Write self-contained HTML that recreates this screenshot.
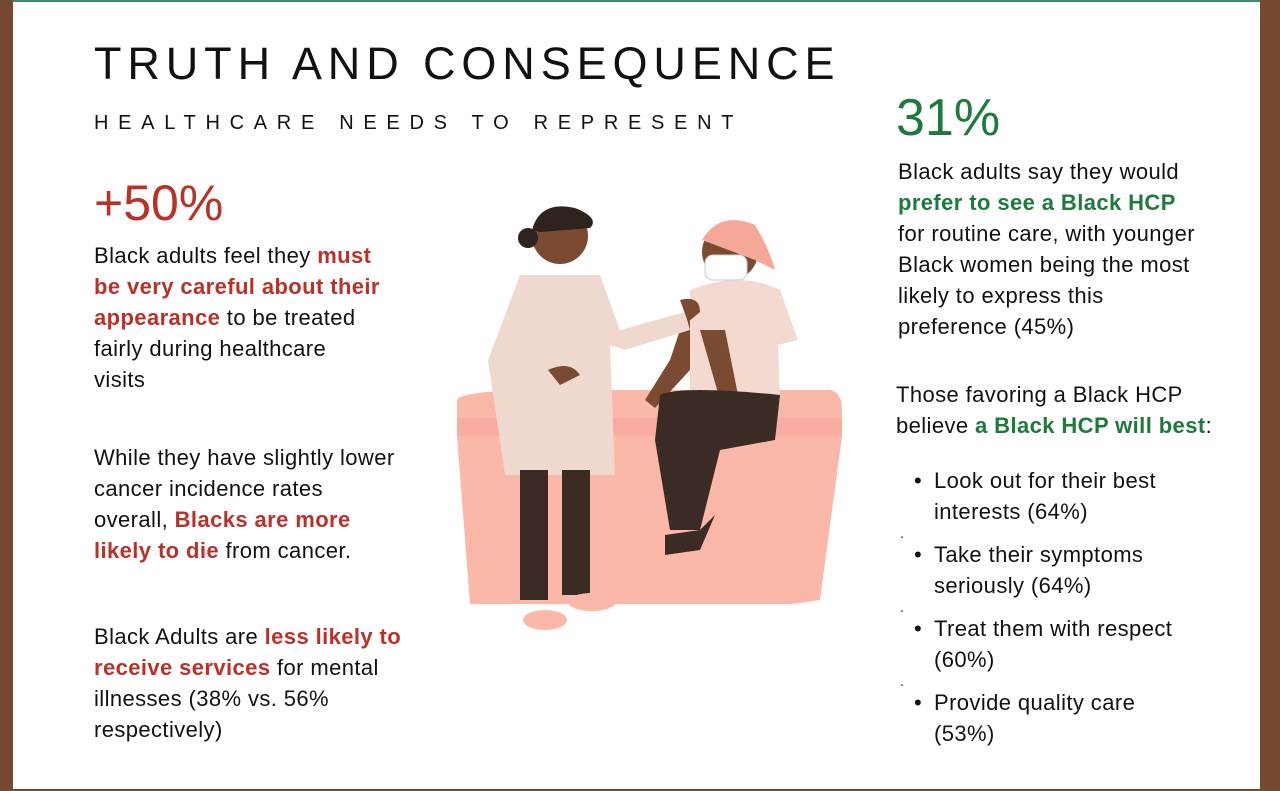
<!DOCTYPE html>
<html><head><meta charset="utf-8"><style>
body{margin:0;width:1280px;height:791px;position:relative;background:#fff;font-family:"Liberation Sans",sans-serif;overflow:hidden;color:#111}
.abs{position:absolute}
.red{color:#b8322a;font-weight:bold}
.grn{color:#1e7a3c;font-weight:bold}
.body{font-size:22px;line-height:31px;white-space:nowrap;letter-spacing:0.4px}
ul{margin:0;padding:0;list-style:none}
li{position:relative;padding-left:38px}
li.b:before{content:"•";position:absolute;left:18px}
.dot{height:12px;line-height:12px;padding-left:4px;font-size:14px}
</style></head><body>
<div class="abs" style="left:0;top:0;width:13px;height:791px;background:#774a30"></div>
<div class="abs" style="left:1260px;top:0;width:20px;height:791px;background:#774a30"></div>
<div class="abs" style="left:13px;top:0;width:1247px;height:2px;background:#3f8a6a"></div>
<div class="abs" style="left:0;top:789px;width:1280px;height:2px;background:#774a30"></div>

<div class="abs" style="left:94px;top:40px;font-size:45px;letter-spacing:5.9px;line-height:48px">TRUTH AND CONSEQUENCE</div>
<div class="abs" style="left:94px;top:112px;font-size:20px;letter-spacing:9.7px">HEALTHCARE NEEDS TO REPRESENT</div>

<div class="abs" style="left:94px;top:174px;font-size:50px;color:#b8322a">+50%</div>
<div class="abs body" style="left:94px;top:240px">Black adults feel they <span class="red">must</span><br><span class="red">be very careful about their</span><br><span class="red">appearance</span> to be treated<br>fairly during healthcare<br>visits</div>
<div class="abs body" style="left:94px;top:442px">While they have slightly lower<br>cancer incidence rates<br>overall, <span class="red">Blacks are more</span><br><span class="red">likely to die</span> from cancer.</div>
<div class="abs body" style="left:94px;top:621px">Black Adults are <span class="red">less likely to</span><br><span class="red">receive services</span> for mental<br>illnesses (38% vs. 56%<br>respectively)</div>

<div class="abs" style="left:896px;top:88px;font-size:52px;color:#1e7a3c">31%</div>
<div class="abs body" style="left:898px;top:156px">Black adults say they would<br><span class="grn">prefer to see a Black HCP</span><br>for routine care, with younger<br>Black women being the most<br>likely to express this<br>preference (45%)</div>
<div class="abs body" style="left:896px;top:379px">Those favoring a Black HCP<br>believe <span class="grn">a Black HCP will best</span>:</div>
<ul class="abs body" style="left:896px;top:465px">
<li class="b">Look out for their best<br>interests (64%)</li>
<li class="dot">.</li>
<li class="b">Take their symptoms<br>seriously (64%)</li>
<li class="dot">.</li>
<li class="b">Treat them with respect<br>(60%)</li>
<li class="dot">.</li>
<li class="b">Provide quality care<br>(53%)</li>
</ul>

<svg class="abs" style="left:440px;top:190px" width="420" height="460" viewBox="440 190 420 460">
<g>
<path d="M457 400 Q460 392 520 390 L830 390 Q842 392 842 410 L842 420 L457 420 Z" fill="#fbb8a9"/>
<rect x="457" y="418" width="385" height="20" fill="#f8ad9e"/>
<path d="M457 436 L842 436 L820 600 L793 604 L470 604 Z" fill="#fbb8a9"/>
</g>
<g>
<circle cx="730" cy="252" r="28" fill="#7a4b30"/>
<path d="M702 240 Q720 210 755 225 Q770 250 775 270 L755 260 Z" fill="#f5a898"/>
<rect x="705" y="255" width="42" height="25" rx="8" fill="#fff" stroke="#ccc"/>
<path d="M690 290 Q740 270 780 290 L798 340 L778 345 L780 400 L690 400 Z" fill="#f3d9cf"/>
<path d="M690 300 L670 360 L645 400 L655 408 L690 370 Z" fill="#7a4b30"/>
<path d="M700 330 L720 400 L740 405 L725 330 Z" fill="#7a4b30"/>
<path d="M660 395 Q680 385 780 395 L775 440 L720 450 L700 530 L670 530 L655 440 Z" fill="#3a2b24"/>
<path d="M665 535 L700 530 L715 515 L700 550 L665 555 Z" fill="#3a2b24"/>
</g>
<g>
<circle cx="560" cy="236" r="28" fill="#7a4b30"/>
<path d="M532 230 Q540 200 575 208 Q600 218 590 228 L540 232 Z" fill="#2e231f"/>
<circle cx="528" cy="238" r="10" fill="#2e231f"/>
<path d="M520 275 L600 275 L620 330 L685 312 L690 330 L625 350 L610 345 L615 475 L505 475 L488 360 Z" fill="#efd9ce"/>
<rect x="520" y="470" width="28" height="130" fill="#3a2b24"/>
<rect x="562" y="470" width="28" height="125" fill="#3a2b24"/>
<ellipse cx="545" cy="620" rx="22" ry="10" fill="#fbb8a9"/>
<ellipse cx="592" cy="602" rx="24" ry="9" fill="#fbb8a9"/>
<path d="M680 300 Q700 295 700 312 L688 322 Z" fill="#7a4b30"/>
<path d="M548 370 Q570 360 580 375 L560 385 Z" fill="#7a4b30"/>
</g>
</svg>
</body></html>
